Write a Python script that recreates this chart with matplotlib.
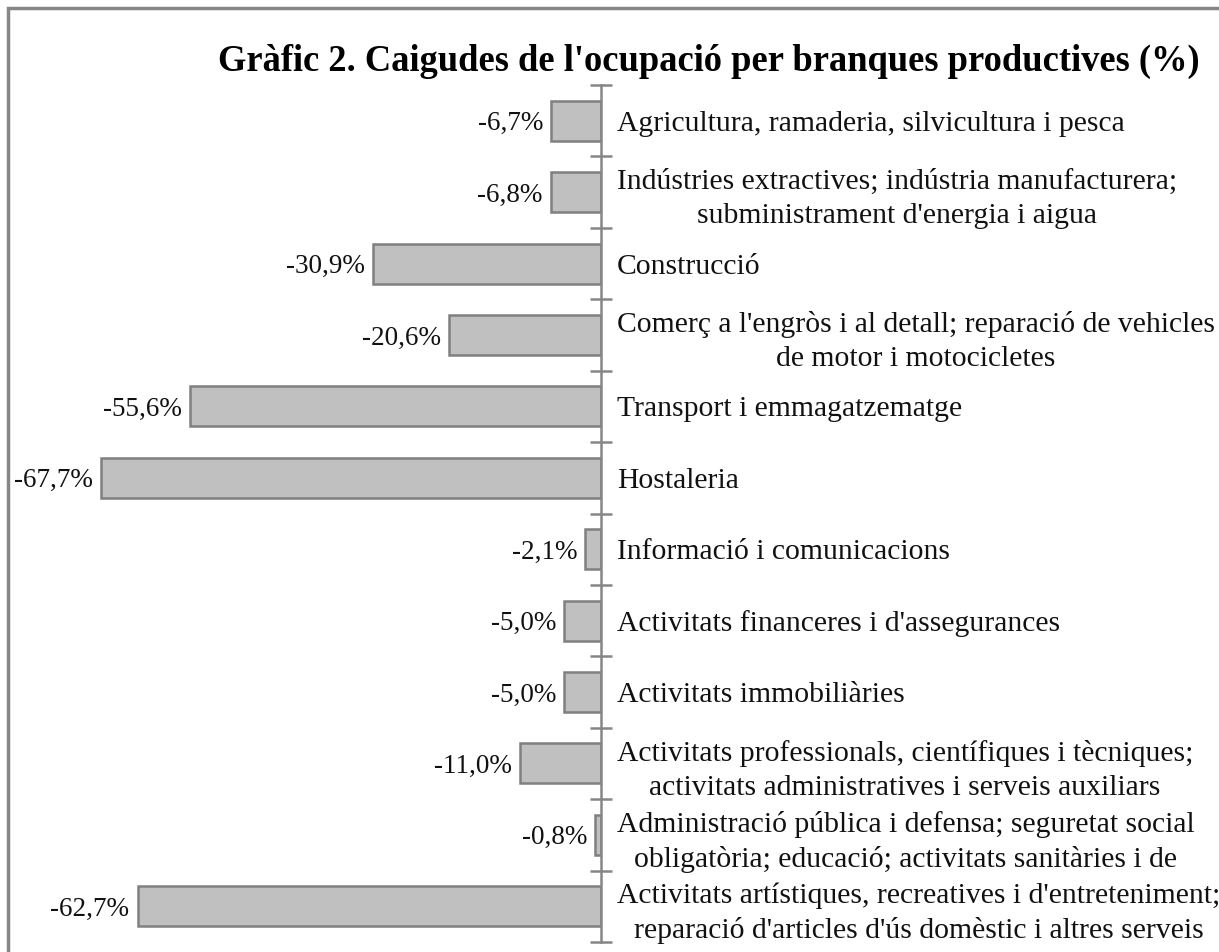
import matplotlib.pyplot as plt
from matplotlib.patches import Rectangle
import numpy as np

# Branches (top to bottom) and employment drop (%)
branques = [
    "Agricultura, ramaderia, silvicultura i pesca",
    "Indústries extractives; indústria manufacturera;\nsubministrament d'energia i aigua",
    "Construcció",
    "Comerç a l'engròs i al detall; reparació de vehicles\nde motor i motocicletes",
    "Transport i emmagatzematge",
    "Hostaleria",
    "Informació i comunicacions",
    "Activitats financeres i d'assegurances",
    "Activitats immobiliàries",
    "Activitats professionals, científiques i tècniques;\nactivitats administratives i serveis auxiliars",
    "Administració pública i defensa; seguretat social\nobligatòria; educació; activitats sanitàries i de",
    "Activitats artístiques, recreatives i d'entreteniment;\nreparació d'articles d'ús domèstic i altres serveis",
]
caigudes = [-6.7, -6.8, -30.9, -20.6, -55.6, -67.7, -2.1, -5.0, -5.0, -11.0, -0.8, -62.7]
titol = "Gràfic 2. Caigudes de l'ocupació per branques productives (%)"

plt.rcParams["font.family"] = ["Liberation Serif", "DejaVu Serif"]

W, H = 1219, 952
fig = plt.figure(figsize=(W / 100, H / 100), dpi=100)

# outer frame of the chart area (right/bottom run off the picture)
fig.patches.append(Rectangle((8 / W, -0.05), 1.2, 1 - 8 / H + 0.05,
                             transform=fig.transFigure, fill=False,
                             edgecolor="#868686", linewidth=2.5))

ax = fig.add_axes([20 / W, 1 - 942 / H, (601 - 20) / W, (942 - 85) / H])

n = len(branques)
y = np.arange(n)
ax.barh(y, caigudes, height=0.56, color="#c0c0c0", edgecolor="#808080", linewidth=1.8)

ax.set_xlim(-78.6, 0)
ax.set_ylim(n - 0.5, -0.5)

# value labels just left of each bar end
for yi, v in zip(y, caigudes):
    ax.text(v - 1.1, yi, f"{v:.1f}%".replace(".", ","), ha="right",
            va="center_baseline", fontsize=19.5, color="#111111")

for s in ["left", "top", "bottom"]:
    ax.spines[s].set_visible(False)
ax.spines["right"].set_color("#868686")
ax.spines["right"].set_linewidth(1.8)
ax.set_xticks([])

# category names on the right of the zero line, separators as minor ticks
ax.yaxis.tick_right()
ax.set_yticks(y)
ax.set_yticklabels(branques, fontsize=21.3, ha="left", multialignment="center",
                   linespacing=1.4, color="#111111")
ax.tick_params(axis="y", which="major", length=0, pad=11.5)
ax.set_yticks(np.arange(n + 1) - 0.5, minor=True)
ax.tick_params(axis="y", which="minor", length=16, direction="inout",
               width=1.8, color="#868686", right=True)

fig.text(709 / W, 1 - 61 / H, titol, ha="center", va="center",
         fontsize=26.3, fontweight="bold")

fig.savefig("out.png", dpi=100)
